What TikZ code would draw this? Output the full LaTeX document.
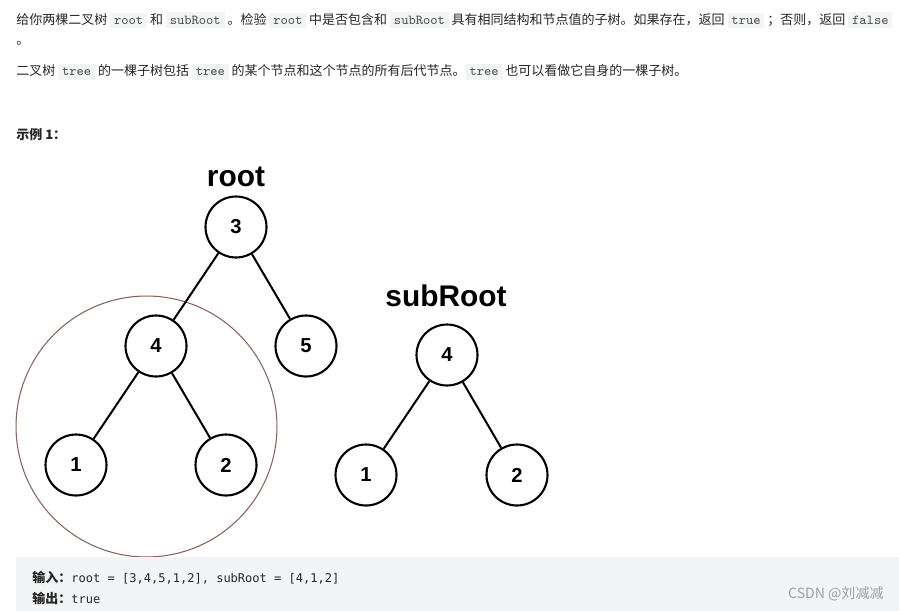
\documentclass[tikz,border=0pt]{standalone}
\usepackage{fontspec}
\setmainfont{Liberation Sans}
\newfontfamily\cjk{Noto Sans CJK SC}
\newfontfamily\codemono{DejaVu Sans Mono}
\usetikzlibrary{positioning}
\definecolor{txt}{HTML}{262626}
\definecolor{codebg}{HTML}{F3F4F4}
\definecolor{codefg}{HTML}{555555}
\definecolor{ringcol}{HTML}{8A6256}
\definecolor{boxbg}{HTML}{F3F4F5}
\definecolor{wmgray}{HTML}{A0A0A0}
\newcommand{\code}[1]{{\setlength{\fboxsep}{2.2pt}\colorbox{codebg}{\ttfamily\fontsize{7.8}{9}\selectfont\color{codefg}#1}}}

\begin{document}
\begin{tikzpicture}[
        x=0.02cm, y=-0.02cm,
        tnode/.style={
            circle,
            draw,
            line width=1.2pt,
            minimum size=1.22cm,
            inner sep=0pt,
            font=\fontsize{11.5}{12}\selectfont\bfseries
        },
        link/.style={line width=1.15pt},
        title/.style={anchor=base, font=\fontsize{17}{20}\selectfont\bfseries},
        para/.style={anchor=west, inner sep=0pt, text=txt, font=\cjk\fontsize{7.4}{9}\selectfont}
    ]
        \useasboundingbox[fill=white] (0,0) rectangle (899,611);

        % problem text
        \node[para] (line1) at (16,20) {给你两棵二叉树 \code{root} 和 \code{subRoot} 。检验 \code{root} 中是否包含和 \code{subRoot} 具有相同结构和节点值的子树。如果存在，返回 \code{true} ；否则，返回 \code{false}};
        \node[para] (dot) at (16,43) {。};
        \node[para] (line2) at (16,72) {二叉树 \code{tree} 的一棵子树包括 \code{tree} 的某个节点和这个节点的所有后代节点。\code{tree} 也可以看做它自身的一棵子树。};
        \node[para, font=\cjk\bfseries\fontsize{7.4}{9}\selectfont] (ex) at (16,135) {示例 1：};

        % highlighted subtree
        \node[circle, draw=ringcol, line width=0.6pt, minimum size=5.22cm, inner sep=0pt] (hilite) at (146.5,426.5) {};

        % tree root
        \node[title] (rootlbl) at (236,187) {root};
        \node[tnode] (r3) at (236,227) {3};
        \node[tnode] (r4) at (156,346) {4};
        \node[tnode] (r5) at (306,346) {5};
        \node[tnode] (r1) at (76,465) {1};
        \node[tnode] (r2) at (226,465) {2};

        \draw[link] (r3) -- (r4);
        \draw[link] (r3) -- (r5);
        \draw[link] (r4) -- (r1);
        \draw[link] (r4) -- (r2);

        % tree subRoot
        \node[title] (sublbl) at (446,306) {subRoot};
        \node[tnode] (s4) at (447,355) {4};
        \node[tnode] (s1) at (366,475) {1};
        \node[tnode] (s2) at (517,475) {2};

        \draw[link] (s4) -- (s1);
        \draw[link] (s4) -- (s2);

        % example box
        \fill[boxbg] (16,557) rectangle (899,611);
        \node[para, font=\fontsize{7.4}{9}\selectfont] (inp) at (32,578) {{\cjk\bfseries 输入：}{\codemono\fontsize{6.85}{8}\selectfont root = [3,4,5,1,2], subRoot = [4,1,2]}};
        \node[para, font=\fontsize{7.4}{9}\selectfont] (outp) at (32,598) {{\cjk\bfseries 输出：}{\codemono\fontsize{6.85}{8}\selectfont true}};
        \node[anchor=east, inner sep=0pt, text=wmgray, font=\cjk\fontsize{8}{9}\selectfont] (wm) at (884,594) {CSDN @刘减减};
    \end{tikzpicture}
\end{document}
